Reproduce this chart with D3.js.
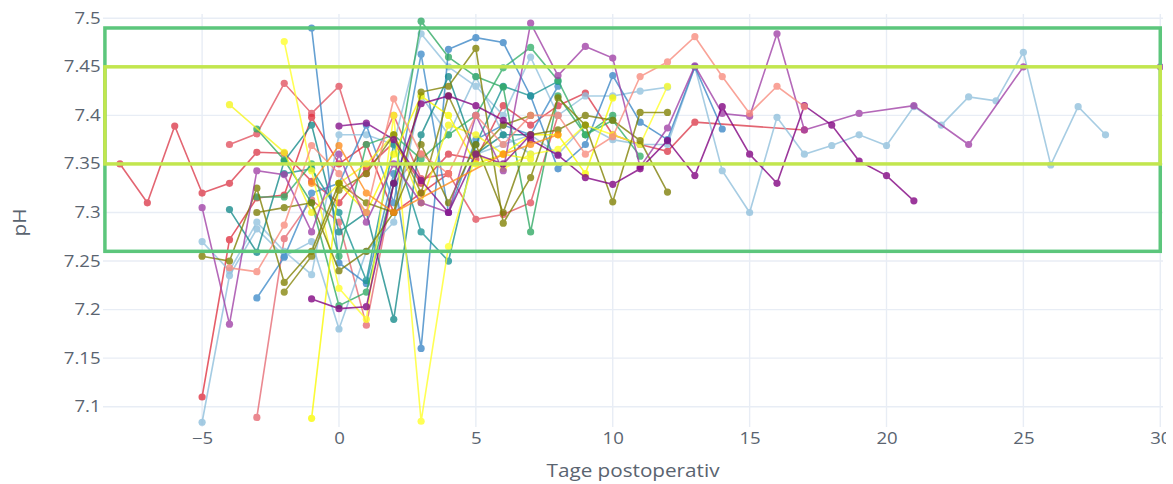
<!DOCTYPE html>
<html><head><meta charset="utf-8">
<script src="https://cdn.jsdelivr.net/npm/d3@7"></script>
<style>body{margin:0;background:#fff;}svg{display:block;font-family:"Open Sans",sans-serif;}</style>
</head><body><svg id="chart" width="1173" height="484"></svg>
<script>
// ---- data ----
const xTicks = [-5, 0, 5, 10, 15, 20, 25, 30];
const yTicks = [7.1, 7.15, 7.2, 7.25, 7.3, 7.35, 7.4, 7.45, 7.5];
const xLabel = "Tage postoperativ";
const yLabel = "pH";
const outerBand = [7.26, 7.49];
const innerBand = [7.35, 7.45];
const bandDays = [-8.55, 30];

const seriesNames = ["P01","P02","P03","P04","P05","P06","P07","P08","P09","P10","P11","P12","P13","P14","P15","P16","P17","P18","P19","P20","P21","P22","P23","P24"];
const seriesColors = ["#dc3b4b","#e2505e","#e0303f","#e66872","#8cbedc","#92c2de","#8fbfdc","#3a86c6","#3f8cca","#138a8a","#1a9494","#2ea862","#34b06a","#f5f51a","#ffff26","#fafa00","#808000","#7d7d05","#85850a","#a03fa6","#800080","#85108a","#f88a7c","#ff8c1a"];
const seriesDays = [
  [-8,-7,-6,-5,-4,-3,-2,-1,0,1,2,3,4,5,6,7,8,9,10,11,12,13,17],
  [-4,-3,-2,-1,0,1,2,3,4,5,6,7,8],
  [-5,-4,-3,-2,-1,0,1,2,3,4],
  [-3,-2,-1,0,1,2,3],
  [-5,-4,-3,-2,-1,0,1,2,3,4,5,6,7],
  [-5,-4,-3,-2,-1,0,1,2,3,4,5,6,7,8,9,10,11,12],
  [5,6,7,8,9,10,11,12,13,14,15,16,17,18,19,20,21,22,23,24,25,26,27,28],
  [-1,0,1,2,3,4,5,6,7,8,9,10,11,12,13,14],
  [-3,-2,-1,0,1,2,3,4,5,6,7,8],
  [-4,-3,-2,-1,0,1,2,3,4,5,6,7],
  [-2,-1,0,1,2,3,4,5,6,7,8],
  [-3,-2,-1,0,1,2,3,4,5,6,7,8,9,10],
  [-3,-2,-1,0,1,2,3,4,5,6,7,8,9,10,11],
  [-4,-2,-1,0,1,2,3,4,5,6,7],
  [-2,-1,0,1,2,3,4,5,6,7,8,9,10,11,12],
  [-1,0,1,2,3,4,5,6,7,8,9,10],
  [-5,-4,-3,-2,-1,0,1,2,3,4,5,6,7,8,9,10,11,12],
  [-3,-2,-1,0,1,2,3,4,5,6,7,8,9,10,11,12],
  [-2,-1,0,1,2,3,4,5,6,7],
  [-5,-4,-3,-2,-1,0,1,2,3,4,5,6,7,8,9,10,11,12,13,14,15,16,17,19,21,23,25,30],
  [-1,0,1,2,3,4,5,6,7,8,9,10,11,12,13,14,15,16,17,18,19,20,21],
  [0,1,2,3,4,5,6,7],
  [-4,-3,-2,-1,0,1,2,3,4,5,6,7,8,9,10,11,12,13,14,15,16,17],
  [-1,0,1,2,6,7,8]
];
const seriesValues = [
  [7.35,7.31,7.389,7.32,7.33,7.362,7.361,7.332,7.31,7.345,7.372,7.33,7.36,7.355,7.41,7.39,7.41,7.423,7.38,7.37,7.363,7.393,7.385],
  [7.37,7.381,7.433,7.402,7.43,7.34,7.40,7.335,7.34,7.293,7.298,7.31,7.40],
  [7.11,7.272,7.315,7.318,7.398,7.35,7.37,7.30,7.32,7.34],
  [7.089,7.273,7.313,7.29,7.184,7.33,7.36],
  [7.084,7.235,7.283,7.255,7.27,7.18,7.26,7.29,7.42,7.38,7.44,7.38,7.36],
  [7.27,7.24,7.29,7.26,7.236,7.38,7.38,7.37,7.484,7.45,7.43,7.40,7.46,7.40,7.42,7.42,7.425,7.429],
  [7.36,7.37,7.38,7.36,7.39,7.375,7.37,7.37,7.45,7.343,7.30,7.398,7.36,7.369,7.38,7.369,7.409,7.39,7.419,7.415,7.465,7.349,7.409,7.38],
  [7.49,7.248,7.227,7.34,7.16,7.468,7.48,7.475,7.42,7.345,7.37,7.441,7.393,7.375,7.45,7.386],
  [7.212,7.254,7.32,7.33,7.39,7.31,7.463,7.30,7.375,7.39,7.38,7.43],
  [7.303,7.259,7.353,7.39,7.28,7.30,7.19,7.38,7.44,7.36,7.38,7.38],
  [7.34,7.345,7.30,7.23,7.37,7.28,7.25,7.37,7.43,7.42,7.435],
  [7.386,7.354,7.31,7.204,7.218,7.33,7.497,7.46,7.44,7.429,7.28,7.42,7.38,7.40],
  [7.316,7.316,7.35,7.255,7.37,7.38,7.355,7.38,7.40,7.449,7.47,7.436,7.38,7.395,7.358],
  [7.411,7.362,7.30,7.33,7.35,7.38,7.31,7.39,7.38,7.36,7.355],
  [7.476,7.343,7.222,7.19,7.40,7.085,7.265,7.36,7.345,7.36,7.365,7.39,7.38,7.37,7.43],
  [7.088,7.33,7.30,7.36,7.42,7.40,7.35,7.36,7.38,7.38,7.34,7.418],
  [7.255,7.25,7.325,7.228,7.26,7.33,7.31,7.30,7.424,7.43,7.469,7.289,7.336,7.418,7.39,7.311,7.403,7.403],
  [7.30,7.305,7.31,7.24,7.26,7.30,7.37,7.31,7.37,7.30,7.38,7.385,7.40,7.395,7.374,7.321],
  [7.218,7.255,7.323,7.34,7.38,7.32,7.42,7.36,7.39,7.40],
  [7.305,7.185,7.343,7.339,7.28,7.36,7.29,7.35,7.31,7.30,7.40,7.343,7.495,7.441,7.471,7.459,7.347,7.387,7.451,7.402,7.399,7.484,7.385,7.402,7.41,7.37,7.45,7.45],
  [7.211,7.201,7.203,7.33,7.412,7.42,7.41,7.395,7.375,7.359,7.336,7.329,7.345,7.374,7.338,7.409,7.36,7.33,7.41,7.39,7.353,7.338,7.312],
  [7.389,7.392,7.375,7.333,7.30,7.36,7.35,7.38],
  [7.243,7.239,7.287,7.369,7.34,7.30,7.417,7.36,7.34,7.40,7.37,7.40,7.40,7.36,7.378,7.44,7.455,7.481,7.44,7.402,7.43,7.409],
  [7.33,7.369,7.32,7.30,7.36,7.37,7.38]
];

// ---- layout ----
const W = 1173, H = 484;
const plot = {left: 103, right: 1163, top: 14, bottom: 427};
const svg = d3.select("#chart");
const x = d3.scaleLinear().domain([-8.62, 30.1]).range([plot.left, plot.right]);
const y = d3.scaleLinear().domain([7.0791, 7.5044]).range([plot.bottom, plot.top]);
const textColor = "#5a6470";
const stretch = "scale(1.2,1)";

svg.append("rect").attr("width", W).attr("height", H).attr("fill", "#fff");
svg.append("clipPath").attr("id", "clip").append("rect")
  .attr("x", plot.left).attr("y", plot.top)
  .attr("width", plot.right - plot.left).attr("height", plot.bottom - plot.top);
svg.append("clipPath").attr("id", "clipx").append("rect")
  .attr("x", 0).attr("y", 0).attr("width", 1166).attr("height", H);

// grid
const grid = svg.append("g");
grid.selectAll("line.gx").data(xTicks).join("line")
  .attr("x1", d => x(d)).attr("x2", d => x(d))
  .attr("y1", plot.top).attr("y2", plot.bottom)
  .attr("stroke", "#e8edf5").attr("stroke-width", 1.4);
grid.selectAll("line.gy").data(yTicks).join("line")
  .attr("y1", d => y(d)).attr("y2", d => y(d))
  .attr("x1", plot.left).attr("x2", plot.right)
  .attr("stroke", "#e8edf5").attr("stroke-width", 1.4);

// axes (text only)
const xAxis = d3.axisBottom(x).tickValues(xTicks).tickSize(0).tickPadding(0);
const gxWrap = svg.append("g").attr("clip-path", "url(#clipx)");
const gx = gxWrap.append("g").attr("transform", `translate(0,${plot.bottom})`).call(xAxis);
gx.select(".domain").remove();
gx.selectAll("text").attr("dy", null).attr("y", 17).attr("font-size", 15.5)
  .attr("transform", stretch)
  .attr("fill", textColor).attr("font-family", "'Open Sans', sans-serif");

const yAxis = d3.axisLeft(y).tickValues(yTicks).tickSize(0).tickPadding(2).tickFormat(d3.format("~g"));
const gy = svg.append("g").attr("transform", `translate(${plot.left},0)`).call(yAxis);
gy.select(".domain").remove();
gy.selectAll("text").attr("font-size", 15.5).attr("fill", textColor)
  .attr("transform", stretch)
  .attr("font-family", "'Open Sans', sans-serif");

svg.append("text").attr("transform", `translate(${(plot.left + plot.right) / 2},477) scale(1.15,1)`)
  .attr("text-anchor", "middle").attr("font-size", 18).attr("fill", textColor).text(xLabel);
svg.append("text").attr("transform", `translate(26,${(plot.top + plot.bottom) / 2 + 2}) rotate(-90) scale(1.15,1)`)
  .attr("text-anchor", "middle").attr("font-size", 18).attr("fill", textColor).text(yLabel);

// series
const data = seriesNames.map((n, i) => ({
  name: n, color: seriesColors[i],
  pts: seriesDays[i].map((d, j) => ({d, v: seriesValues[i][j]}))
}));
const line = d3.line().x(p => x(p.d)).y(p => y(p.v));
const layer = svg.append("g").attr("clip-path", "url(#clip)");
const sg = layer.selectAll("g.s").data(data).join("g").attr("class", "s").attr("opacity", 0.78);
sg.append("path").attr("d", s => line(s.pts)).attr("fill", "none")
  .attr("stroke", s => s.color).attr("stroke-width", 1.6);
sg.selectAll("circle").data(s => s.pts.map(p => ({...p, c: s.color}))).join("circle")
  .attr("cx", p => x(p.d)).attr("cy", p => y(p.v)).attr("r", 3.6).attr("fill", p => p.c);

// reference bands
const bands = svg.append("g").attr("clip-path", "url(#clip)");
bands.append("rect").attr("x", x(bandDays[0])).attr("width", x(bandDays[1]) - x(bandDays[0]))
  .attr("y", y(outerBand[1])).attr("height", y(outerBand[0]) - y(outerBand[1]))
  .attr("fill", "none").attr("stroke", "#5cc67c").attr("stroke-width", 3.5);
bands.append("rect").attr("x", x(bandDays[0])).attr("width", x(bandDays[1]) - x(bandDays[0]))
  .attr("y", y(innerBand[1])).attr("height", y(innerBand[0]) - y(innerBand[1]))
  .attr("fill", "none").attr("stroke", "#c2e64e").attr("stroke-width", 3.5);
</script></body></html>
